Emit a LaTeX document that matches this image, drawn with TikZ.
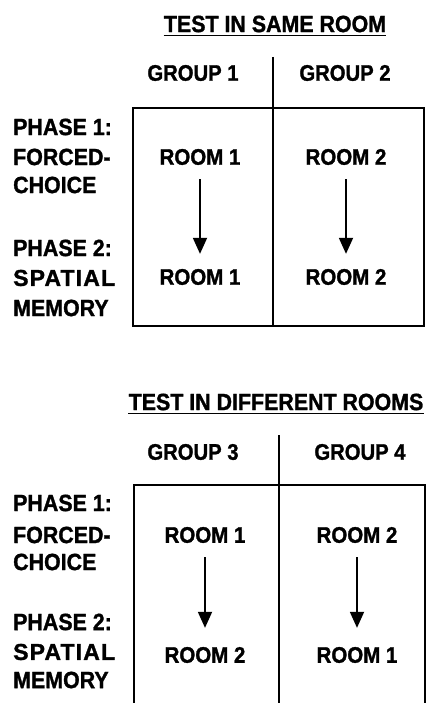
\documentclass[tikz,border=0pt]{standalone}
\usepackage{fontspec}
\setmainfont{Liberation Sans}
\newfontfamily\tightfont{Liberation Sans}[FakeStretch=0.91,FakeBold=1.3]
\newfontfamily\grpfont{Liberation Sans}[FakeStretch=0.9,FakeBold=1.3]
\newfontfamily\widefont{Liberation Sans}[LetterSpace=5,FakeBold=1.3]
\usetikzlibrary{arrows.meta}
\tikzset{
  txt/.style={inner sep=0pt, font=\tightfont\bfseries\fontsize{22.5}{26}\selectfont},
  title/.style={inner sep=0pt, font=\tightfont\bfseries\fontsize{23.5}{27}\selectfont},
  grp/.style={inner sep=0pt, font=\grpfont\bfseries\fontsize{22.5}{26}\selectfont},
  phase/.style={inner sep=0pt, anchor=west, font=\tightfont\bfseries\fontsize{23.5}{27}\selectfont},
  frame/.style={line width=2.6pt},
  divider/.style={line width=1.8pt},
  flow/.style={line width=1.8pt, -{Triangle[width=14pt,length=16pt]}},
}
\begin{document}
\begin{tikzpicture}[x=1pt,y=-1pt]
\useasboundingbox (0,0) rectangle (429,703);
\clip (0,0) rectangle (429,703);

% ---------- test in the same room ----------
\node[title] (t1) at (275,24) {TEST IN SAME ROOM};
\draw[line width=1.5pt] ([yshift=-3pt]t1.south west) -- ([yshift=-3pt]t1.south east);

\node[grp] (g1) at (193,73) {GROUP 1};
\node[grp] (g2) at (345,73) {GROUP 2};

\coordinate (d1top) at (273,57);
\coordinate (d1bot) at (273,326);
\draw[divider] (d1top) -- (d1bot);
\draw[frame] (133,108) rectangle (424,326);

\node[phase] (p1a) at (13,127) {PHASE 1:};
\node[phase] (p1b) at (13,157) {FORCED-};
\node[phase] (p1c) at (13,185) {CHOICE};
\node[phase] (p2a) at (13,248) {PHASE 2:};
\node[phase] (p2b) at (13,278) {\widefont\bfseries\fontsize{23}{27}\selectfont SPATIAL};
\node[phase] (p2c) at (13,308) {MEMORY};

\node[txt] (a1) at (200,157) {ROOM 1};
\node[txt] (a2) at (200,277) {ROOM 1};
\node[txt] (b1) at (346,157) {ROOM 2};
\node[txt] (b2) at (346,277) {ROOM 2};
\draw[flow, shorten <=14pt, shorten >=15pt] (a1.south) -- (a2.north);
\draw[flow, shorten <=14pt, shorten >=15pt] (b1.south) -- (b2.north);

% ---------- test in different rooms ----------
\node[title] (t2) at (276,402) {TEST IN DIFFERENT ROOMS};
\draw[line width=1.5pt] ([yshift=-3pt]t2.south west) -- ([yshift=-3pt]t2.south east);

\node[grp] (g3) at (193,452) {GROUP 3};
\node[grp] (g4) at (360,452) {GROUP 4};

\coordinate (d2top) at (279,435);
\coordinate (d2bot) at (279,720);
\draw[divider] (d2top) -- (d2bot);
\draw[frame] (134,720) -- (134,485) -- (425,485) -- (425,720);

\node[phase] (q1a) at (13,503) {PHASE 1:};
\node[phase] (q1b) at (13,535) {FORCED-};
\node[phase] (q1c) at (13,562) {CHOICE};
\node[phase] (q2a) at (13,622) {PHASE 2:};
\node[phase] (q2b) at (13,652) {\widefont\bfseries\fontsize{23}{27}\selectfont SPATIAL};
\node[phase] (q2c) at (13,680) {MEMORY};

\node[txt] (c1) at (205,535) {ROOM 1};
\node[txt] (c2) at (205,655) {ROOM 2};
\node[txt] (e1) at (357,535) {ROOM 2};
\node[txt] (e2) at (357,655) {ROOM 1};
\draw[flow, shorten <=14pt, shorten >=19pt] (c1.south) -- (c2.north);
\draw[flow, shorten <=14pt, shorten >=19pt] (e1.south) -- (e2.north);
\end{tikzpicture}
\end{document}
